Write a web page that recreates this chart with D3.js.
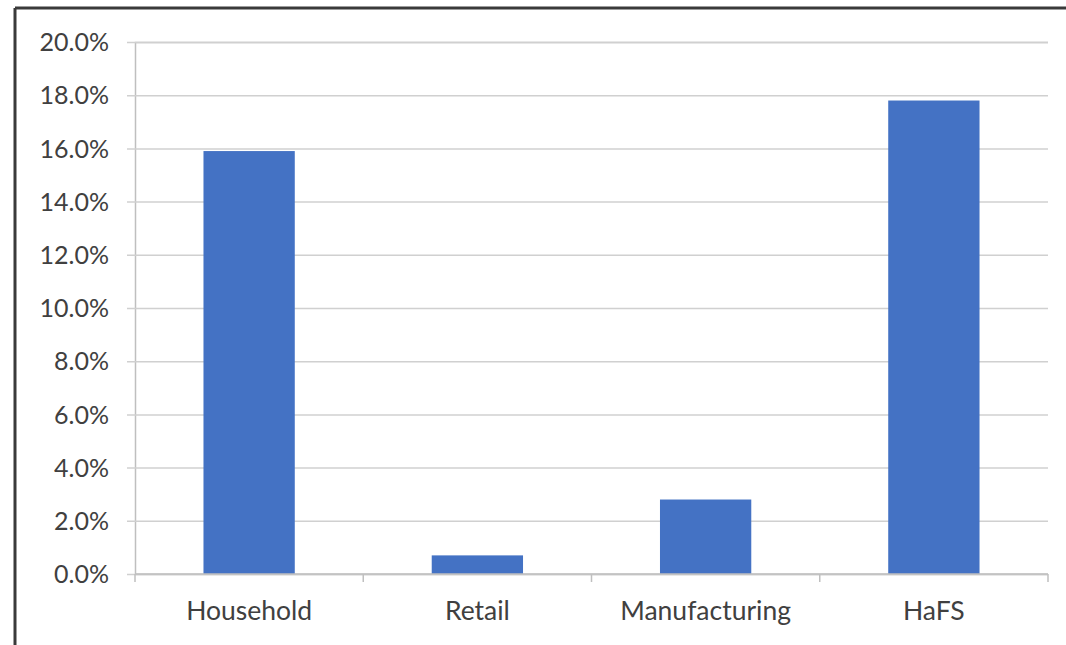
<!DOCTYPE html>
<html>
<head>
<meta charset="utf-8">
<script src="https://cdn.jsdelivr.net/npm/d3@7"></script>
<style>
  body { margin: 0; background: #fff; }
  svg { display: block; }
  text { font-family: Lato, "Open Sans", sans-serif; fill: #404040; }
</style>
</head>
<body>
<svg id="chart" width="1066" height="645"></svg>
<script>
// Categories and values (percent)
var categories = ["Household", "Retail", "Manufacturing", "HaFS"];
var values = [15.9, 0.7, 2.8, 17.8];
var yTicks = [0, 2, 4, 6, 8, 10, 12, 14, 16, 18, 20];

var svg = d3.select('#chart');

// Plot area
var plotLeft = 135, plotRight = 1048, plotTop = 42, plotBottom = 574;

var x = d3.scaleBand()
    .domain(categories)
    .range([plotLeft, plotRight])
    .paddingInner(0.6)
    .paddingOuter(0.3);

var y = d3.scaleLinear()
    .domain([0, 20])
    .range([plotBottom, plotTop]);

// Outer frame (only top and left edges are visible in the screenshot)
svg.append('line')
    .attr('x1', 15).attr('x2', 1066)
    .attr('y1', 8).attr('y2', 8)
    .attr('stroke', '#3a3a3a')
    .attr('stroke-width', 3);
svg.append('line')
    .attr('x1', 15).attr('x2', 15)
    .attr('y1', 8).attr('y2', 645)
    .attr('stroke', '#3a3a3a')
    .attr('stroke-width', 3);

// Gridlines + y axis
var yAxis = d3.axisLeft(y)
    .tickValues(yTicks)
    .tickSize(-(plotRight - plotLeft))
    .tickFormat(function(d) { return d.toFixed(1) + '%'; });

var gy = svg.append('g')
    .attr('transform', 'translate(' + plotLeft + ',0)')
    .call(yAxis);

gy.select('.domain').attr('stroke', '#bfbfbf').attr('stroke-width', 1.5);
gy.selectAll('.tick line')
    .attr('x1', -8)
    .attr('stroke', '#d0d0d0')
    .attr('stroke-width', 1.5);
gy.selectAll('.tick text')
    .attr('x', -26)
    .attr('dy', '0.35em')
    .style('font-size', '25px')
    .style('fill', '#404040');

// Bars
svg.append('g')
    .selectAll('rect')
    .data(values)
    .enter()
    .append('rect')
    .attr('x', function(d, i) { return x(categories[i]); })
    .attr('y', function(d) { return y(d); })
    .attr('width', x.bandwidth())
    .attr('height', function(d) { return y(0) - y(d); })
    .attr('fill', '#4472C4');

// x axis
var gx = svg.append('g')
    .attr('transform', 'translate(0,' + plotBottom + ')');

gx.append('line')
    .attr('x1', plotLeft).attr('x2', plotRight)
    .attr('stroke', '#bfbfbf')
    .attr('stroke-width', 1.5);

var boundaries = categories.map(function(c) { return x(c) - x.step() * x.paddingOuter(); });
boundaries.push(plotRight);

gx.selectAll('.sep')
    .data(boundaries)
    .enter()
    .append('line')
    .attr('class', 'sep')
    .attr('x1', function(d) { return d; })
    .attr('x2', function(d) { return d; })
    .attr('y1', 0).attr('y2', 8)
    .attr('stroke', '#bfbfbf')
    .attr('stroke-width', 1.5);

gx.selectAll('.cat')
    .data(categories)
    .enter()
    .append('text')
    .attr('class', 'cat')
    .attr('x', function(d) { return x(d) + x.bandwidth() / 2; })
    .attr('y', 46)
    .attr('text-anchor', 'middle')
    .style('font-size', '26.5px')
    .text(function(d) { return d; });
</script>
</body>
</html>
